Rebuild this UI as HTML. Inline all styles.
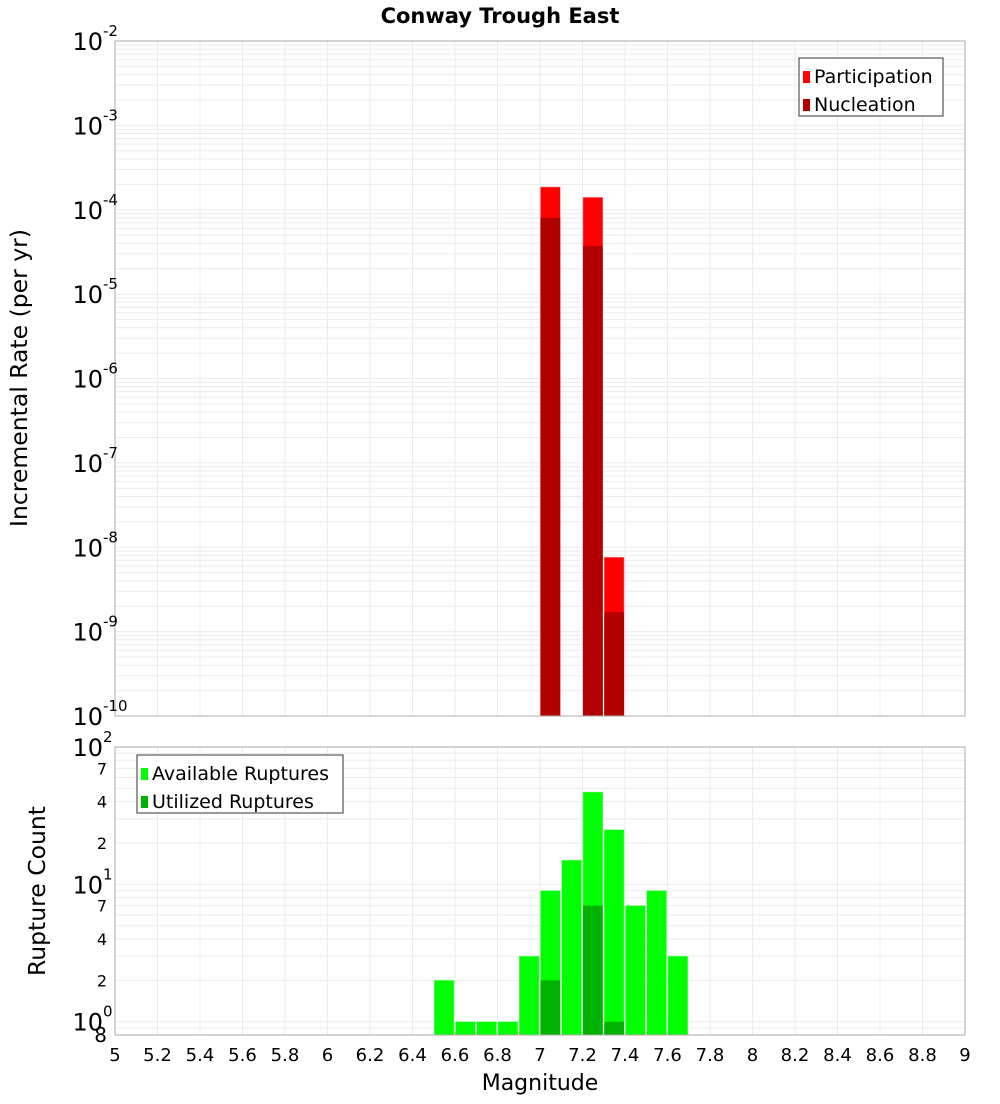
<!DOCTYPE html>
<html><head><meta charset="utf-8"><style>
body{margin:0;background:#fff;font-family:"DejaVu Sans","Liberation Sans",sans-serif}
svg text{font-family:"DejaVu Sans","Liberation Sans",sans-serif}
</style></head><body>
<svg id="c" width="1000" height="1100" xmlns="http://www.w3.org/2000/svg">
<text x="500" y="23" text-anchor="middle" font-size="21" font-weight="bold">Conway Trough East</text>
<text transform="translate(27,378) rotate(-90)" text-anchor="middle" font-size="23.5">Incremental Rate (per yr)</text>
<text transform="translate(45,891) rotate(-90)" text-anchor="middle" font-size="23.5">Rupture Count</text>
<text x="540" y="1090" text-anchor="middle" font-size="22">Magnitude</text>
<g id="topg"></g><g id="botg"></g>
</svg>
<script>
const bins=[6.5,6.6,6.7,6.8,6.9,7.0,7.1,7.2,7.3,7.4,7.5,7.6];
const available=[2,1,1,1,3,9,15,47,25,7,9,3];
const utilized=[0,0,0,0,0,2,0,7,1,0,0,0];
const rateBins=[7.0,7.2,7.3];
const participation=[1.86e-4,1.4e-4,7.6e-9];
const nucleation=[8e-5,3.7e-5,1.7e-9];
const xTicks=[5,5.2,5.4,5.6,5.8,6,6.2,6.4,6.6,6.8,7,7.2,7.4,7.6,7.8,8,8.2,8.4,8.6,8.8,9];
const topExps=[-2,-3,-4,-5,-6,-7,-8,-9,-10];
const botMinor=[2,4,7,20,40,70];

const NS="http://www.w3.org/2000/svg";
const L=115,R=965;
const X=v=>L+(v-5)/4*(R-L);
const T0=41,T1=716, yT=v=>T1-(Math.log10(v)+10)/8*(T1-T0);
const B0=747,B1=1035, yB=v=>B1-(Math.log10(v)-Math.log10(0.8))/(2-Math.log10(0.8))*(B1-B0);
function el(p,t,a,txt){const e=document.createElementNS(NS,t);for(const k in a)e.setAttribute(k,a[k]);if(txt!==undefined)e.textContent=txt;p.appendChild(e);return e;}
const gTop=document.getElementById('topg'),gBot=document.getElementById('botg');

function frame(g,y0,y1,yf,lo,hi){
  el(g,'rect',{x:L,y:y0,width:R-L,height:y1-y0,fill:'#fff'});
  for(let e=lo;e<hi;e++)for(let m=1;m<10;m++){const v=m*Math.pow(10,e);const y=yf(v);if(y<y0-0.5||y>y1+0.5)continue;
    el(g,'line',{x1:L,x2:R,y1:y,y2:y,stroke:'#ebebeb','stroke-width':1});}
  xTicks.forEach(t=>el(g,'line',{x1:X(t),x2:X(t),y1:y0,y2:y1,stroke:'#ebebeb','stroke-width':1}));
}
frame(gTop,T0,T1,yT,-10,-1);
frame(gBot,B0,B1,yB,-1,2);

participation.forEach((v,i)=>{const r=el(gTop,'rect',{x:X(rateBins[i])+0.5,y:yT(v),width:X(rateBins[i]+0.1)-X(rateBins[i])-1.5,height:T1-yT(v),fill:'#ff0000',stroke:'#ff8080','stroke-width':0.5});

});
nucleation.forEach((v,i)=>{const r=el(gTop,'rect',{x:X(rateBins[i])+0.5,y:yT(v),width:X(rateBins[i]+0.1)-X(rateBins[i])-1.5,height:T1-yT(v),fill:'#b20000'});

});
available.forEach((v,i)=>{const r=el(gBot,'rect',{x:X(bins[i])+0.5,y:yB(v),width:X(bins[i]+0.1)-X(bins[i])-1.5,height:B1-yB(v),fill:'#00ff00',stroke:'#80ff80','stroke-width':0.5});

});
utilized.forEach((v,i)=>{if(!v)return;const r=el(gBot,'rect',{x:X(bins[i])+0.5,y:yB(v),width:X(bins[i]+0.1)-X(bins[i])-1.5,height:B1-yB(v),fill:'#00b200'});

});

el(gTop,'rect',{x:L,y:T0,width:R-L,height:T1-T0,fill:'none',stroke:'#aaa'});
el(gBot,'rect',{x:L,y:B0,width:R-L,height:B1-B0,fill:'none',stroke:'#aaa'});

topExps.forEach(e=>{const y=yT(Math.pow(10,e));
  const t=el(gTop,'text',{x:103,y:y+9,'text-anchor':'end','font-size':24},'10');
  
  
  el(gTop,'text',{x:103,y:y-5,'font-size':15},String(e));});
[[100,'2'],[10,'1'],[1,'0']].forEach(([v,s])=>{const y=yB(v);
  const t=el(gBot,'text',{x:103,y:y+9,'text-anchor':'end','font-size':24},'10');
  
  
  el(gBot,'text',{x:103,y:y-5,'font-size':15},s);});
botMinor.forEach(v=>{const t=el(gBot,'text',{x:107,y:yB(v)+6,'text-anchor':'end','font-size':16},String(v<10?v:v/10));
  
  });
el(gBot,'text',{x:107,y:1042,'text-anchor':'end','font-size':20},'8');
xTicks.forEach(t=>{const e=el(gBot,'text',{x:X(t),y:1061,'text-anchor':'middle','font-size':18},String(t));
  
  });

function legend(g,x,y,w,items){const lg=el(g,'g',{});
  
  
  el(lg,'rect',{x:x,y:y,width:w,height:58,fill:'#fff',stroke:'#333','stroke-width':1});
  items.forEach(([c,txt],i)=>{el(lg,'rect',{x:x+4,y:y+13+i*28,width:7,height:12,fill:c});
    const t=el(lg,'text',{x:x+15,y:y+25+i*28,'font-size':19},txt);
    
    });}
legend(gTop,799,58,144,[['#ff0000','Participation'],['#b20000','Nucleation']]);
legend(gBot,137,755,206,[['#00ff00','Available Ruptures'],['#00b200','Utilized Ruptures']]);
</script>
</body></html>
